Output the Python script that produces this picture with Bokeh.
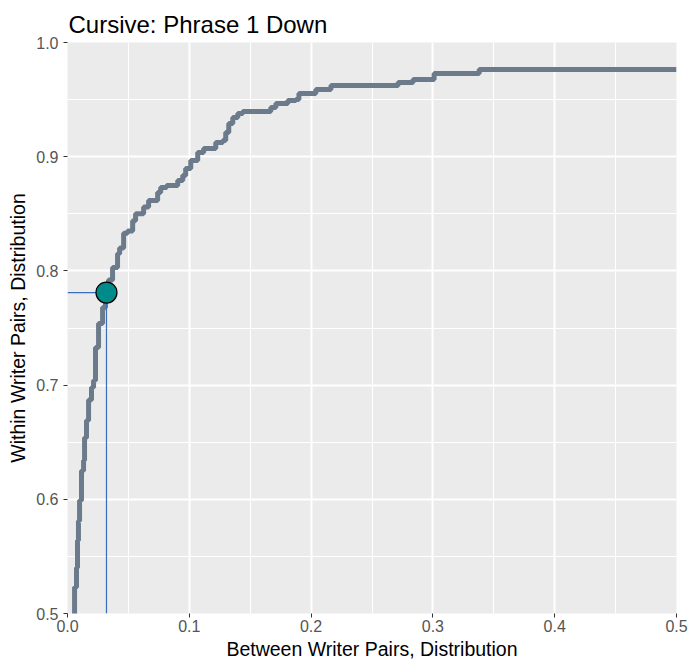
from bokeh.plotting import figure
from bokeh.embed import file_html
from bokeh.resources import INLINE
from bokeh.models import FixedTicker, PrintfTickFormatter, Range1d

# ---- data ----
curve_x = [0.0045, 0.0058, 0.0074, 0.0082, 0.0090, 0.0099, 0.0115, 0.0132, 0.0140,
           0.0156, 0.0173, 0.0197, 0.0214, 0.0230, 0.0255, 0.0288, 0.0312, 0.0337,
           0.0370, 0.0411, 0.0428, 0.0461, 0.0493, 0.0535, 0.0559, 0.0625,
           0.0666, 0.0740, 0.0765, 0.0814, 0.0905, 0.0946, 0.0970, 0.1012, 0.1069,
           0.1118, 0.1217, 0.1275, 0.1299, 0.1324, 0.1357, 0.1398, 0.1439, 0.1669,
           0.1711, 0.1809, 0.1875, 0.1900, 0.2039, 0.2163, 0.2714, 0.2837, 0.3010,
           0.3380, 0.5000]
curve_y = [0.480, 0.523, 0.540, 0.564, 0.581, 0.599, 0.625, 0.634, 0.654,
           0.669, 0.687, 0.698, 0.704, 0.733, 0.754, 0.768, 0.781, 0.792,
           0.803, 0.815, 0.820, 0.833, 0.835, 0.844, 0.850, 0.856,
           0.8616, 0.8687, 0.8730, 0.8748, 0.8792, 0.8835, 0.8897, 0.8967, 0.9037,
           0.9072, 0.9124, 0.9142, 0.9212, 0.9291, 0.9343, 0.9378, 0.9396, 0.9431,
           0.9466, 0.9492, 0.9501, 0.9553, 0.9588, 0.9623, 0.9650, 0.9676, 0.9729,
           0.9764, 0.9764]

point_x = 0.032
point_y = 0.781

x_ticks = [0.0, 0.1, 0.2, 0.3, 0.4, 0.5]
y_ticks = [0.5, 0.6, 0.7, 0.8, 0.9, 1.0]
x_minor = [0.05, 0.15, 0.25, 0.35, 0.45]
y_minor = [0.55, 0.65, 0.75, 0.85, 0.95]

title_text = "Cursive: Phrase 1 Down"
x_label = "Between Writer Pairs, Distribution"
y_label = "Within Writer Pairs, Distribution"

FONT = "Liberation Sans"

p = figure(width=689, height=663, output_backend="svg", toolbar_location=None,
           x_range=Range1d(0, 0.5), y_range=Range1d(0.5, 1.0),
           min_border_left=67, min_border_right=13, min_border_top=42,
           min_border_bottom=50, title=title_text)

p.title.text_font = FONT
p.title.text_font_size = "24px"
p.title.text_font_style = "normal"
p.title.text_color = "black"
p.title.offset = 1
p.title.standoff = 10

p.background_fill_color = "#EBEBEB"
p.border_fill_color = "white"
p.outline_line_color = None

for ax, ticks, minor in ((p.xaxis[0], x_ticks, x_minor), (p.yaxis[0], y_ticks, y_minor)):
    ax.ticker = FixedTicker(ticks=ticks, minor_ticks=minor)
    ax.formatter = PrintfTickFormatter(format="%.1f")
    ax.axis_line_color = None
    ax.major_tick_line_color = "#333333"
    ax.major_tick_line_width = 1
    ax.major_tick_in = 0
    ax.major_tick_out = 4
    ax.minor_tick_line_color = None
    ax.major_label_text_font = FONT
    ax.major_label_text_font_size = "16px"
    ax.major_label_text_color = "#555555"
    ax.axis_label_text_font = FONT
    ax.axis_label_text_font_size = "19.5px"
    ax.axis_label_text_font_style = "normal"
    ax.axis_label_text_color = "black"

p.xaxis.axis_label = x_label
p.yaxis.axis_label = y_label
p.xaxis.major_label_standoff = 2
p.yaxis.major_label_standoff = 5
p.xaxis.axis_label_standoff = 3
p.yaxis.axis_label_standoff = 4

for g in (p.xgrid[0], p.ygrid[0]):
    g.grid_line_color = "white"
    g.grid_line_width = 2
    g.minor_grid_line_color = "white"
    g.minor_grid_line_width = 1

p.step(curve_x, curve_y, mode="after", line_color="#6C7B8B", line_width=5)

p.segment(x0=[0, point_x], y0=[point_y, 0.5], x1=[point_x, point_x], y1=[point_y, point_y],
          line_color="#3B6DB8", line_width=1.2)

p.scatter([point_x], [point_y], size=21, fill_color="#008B8B", line_color="black",
          line_width=1.2)

open("out.html", "w").write(file_html(p, INLINE))
